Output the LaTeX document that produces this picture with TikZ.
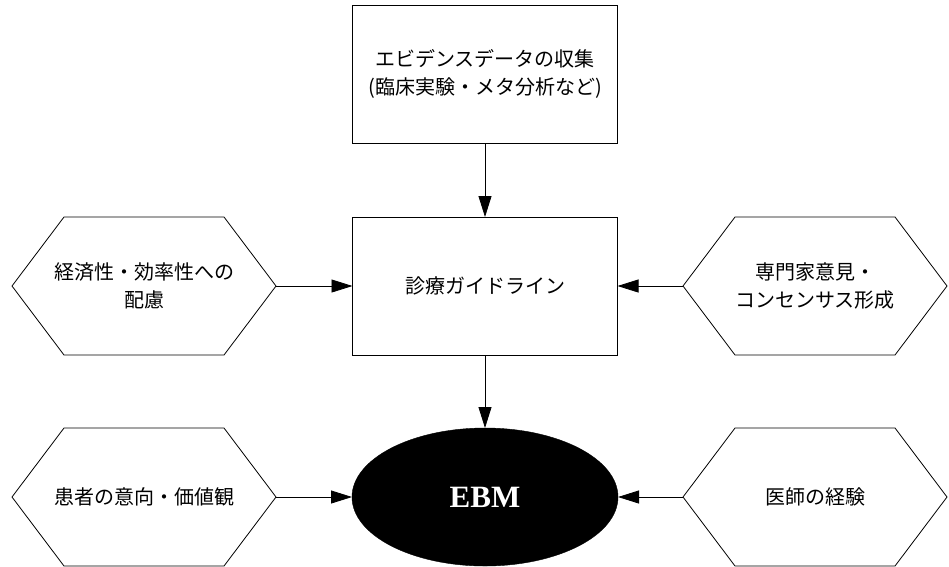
\documentclass[tikz,border=0pt]{standalone}
\usepackage{fontspec}
\setmainfont{Liberation Serif}
\newfontfamily\jp{Noto Sans CJK JP}
\usetikzlibrary{shapes.geometric,arrows.meta}
\begin{document}
\begin{tikzpicture}[x=1pt,y=-1pt,
  every node/.style={inner sep=0pt, outer sep=0pt},
  box/.style={draw, line width=0.8pt, minimum width=265pt, minimum height=138pt, align=center,
    font=\jp\fontsize{20}{28}\selectfont},
  hexnode/.style={minimum width=264pt, minimum height=138pt, align=center,
    font=\jp\fontsize{20}{28}\selectfont},
  hexline/.style={line width=0.8pt},
  arr/.style={line width=0.8pt, -{Triangle[length=21pt,width=13pt]}},
  ebmstyle/.style={ellipse, fill=black, draw=black, minimum width=266pt, minimum height=138pt,
    text=white, font=\bfseries\fontsize{31}{34}\selectfont}
]
\useasboundingbox (0,0) rectangle (949,566);
\node[box] (top) at (485,74) {エビデンスデータの収集\\(臨床実験・メタ分析など)};
\node[box] (mid) at (485,286) {診療ガイドライン};
\node[ebmstyle] (ebm) at (485,497) {EBM};
\node[hexnode] (hl1) at (144,286) {経済性・効率性への\\配慮};
\node[hexnode] (hr1) at (815,286) {専門家意見・\\コンセンサス形成};
\node[hexnode] (hl2) at (144,497) {患者の意向・価値観};
\node[hexnode] (hr2) at (815,497) {医師の経験};
\foreach \h in {hl1,hr1,hl2,hr2}{
  \draw[hexline] (\h.west) -- ([xshift=52pt]\h.north west) -- ([xshift=-52pt]\h.north east)
    -- (\h.east) -- ([xshift=-52pt]\h.south east) -- ([xshift=52pt]\h.south west) -- cycle;
}
\draw[arr] (top) -- (mid);
\draw[arr] (mid) -- (ebm);
\draw[arr] (hl1.east) -- (mid.west);
\draw[arr] (hr1.west) -- (mid.east);
\draw[arr] (hl2.east) -- (ebm.west);
\draw[arr] (hr2.west) -- (ebm.east);
\end{tikzpicture}
\end{document}
